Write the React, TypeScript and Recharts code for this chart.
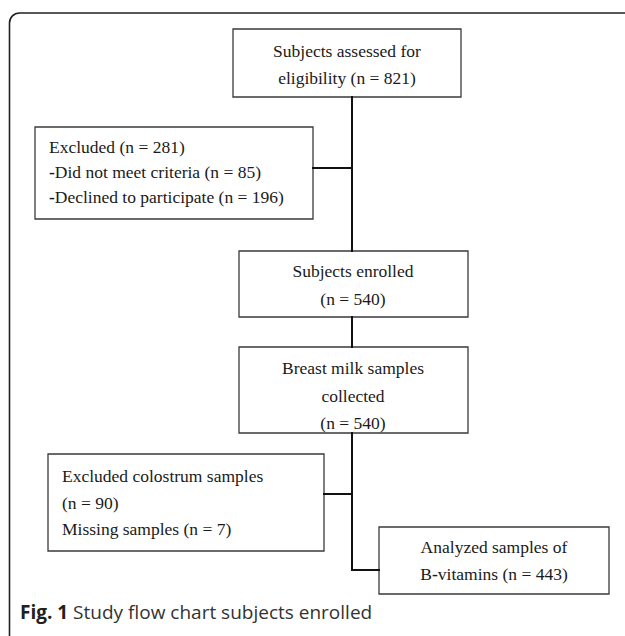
import { ScatterChart, Scatter, XAxis, YAxis, ReferenceArea, ReferenceLine } from 'recharts'

const W = 625
const H = 636

// box contents, top to bottom
const boxText: string[][] = [
    ['Subjects assessed for', 'eligibility (n = 821)'],
    ['Excluded (n = 281)', '-Did not meet criteria (n = 85)', '-Declined to participate (n = 196)'],
    ['Subjects enrolled', '(n = 540)'],
    ['Breast milk samples', 'collected', '(n = 540)'],
    ['Excluded colostrum samples', '(n = 90)', 'Missing samples (n = 7)'],
    ['Analyzed samples of', 'B-vitamins (n = 443)'],
]

const captionBold = 'Fig. 1'
const captionText = ' Study flow chart subjects enrolled'

// layout in page pixels (the axes map 1:1 onto the page)
const boxLayout = [
    { x1: 233, x2: 461, y1: 29, y2: 97, anchor: 'middle', tx: 347, ty: 57, dy: 27 },
    { x1: 35, x2: 313, y1: 127, y2: 219, anchor: 'start', tx: 49, ty: 153, dy: 25 },
    { x1: 239, x2: 468, y1: 251, y2: 317, anchor: 'middle', tx: 353, ty: 277, dy: 28 },
    { x1: 239, x2: 468, y1: 347, y2: 433, anchor: 'middle', tx: 353, ty: 374, dy: 27.5 },
    { x1: 48, x2: 324, y1: 454, y2: 551, anchor: 'start', tx: 62, ty: 482, dy: 26.5 },
    { x1: 379, x2: 609, y1: 527, y2: 594, anchor: 'middle', tx: 494, ty: 553, dy: 27 },
]

const connectors = [
    [{ x: 352, y: 97 }, { x: 352, y: 251 }],
    [{ x: 313, y: 168 }, { x: 352, y: 168 }],
    [{ x: 352, y: 317 }, { x: 352, y: 347 }],
    [{ x: 352, y: 433 }, { x: 352, y: 570 }],
    [{ x: 352, y: 570 }, { x: 379, y: 570 }],
    [{ x: 324, y: 494 }, { x: 352, y: 494 }],
]

const labels = boxText.flatMap((lines, i) =>
    lines.map((text, j) => ({
        x: boxLayout[i].tx,
        y: boxLayout[i].ty + j * boxLayout[i].dy,
        text,
        anchor: boxLayout[i].anchor,
    }))
)

const SERIF = '"Liberation Serif", "Times New Roman", serif'

// hyphens in the source are drawn heavier than the letters
function renderLine(text: string) {
    const parts = text.split('-')
    return parts.map((p, i) => (
        <tspan key={i}>
            {i > 0 && <tspan fontWeight="bold">-</tspan>}
            {p}
        </tspan>
    ))
}

const LabelShape = (props: any) => {
    const { cx, cy, payload } = props
    return (
        <text x={cx} y={cy} textAnchor={payload.anchor} fontFamily={SERIF} fontSize={17.5} fill="#1a1a1a">
            {renderLine(payload.text)}
        </text>
    )
}

const CaptionShape = (props: any) => {
    const { cx, cy } = props
    return (
        <text x={cx} y={cy} fontFamily='"Open Sans", sans-serif' fontSize={19} fill="#231f20">
            <tspan fontWeight="bold">{captionBold}</tspan>
            <tspan fill="#333">{captionText}</tspan>
        </text>
    )
}

export default function App() {
    return (
        <div style={{ position: 'absolute', left: 0, top: 0, width: W, height: H, background: '#fff' }}>
            <ScatterChart width={W} height={H} margin={{ top: 0, right: 0, bottom: 0, left: 0 }}>
                <XAxis type="number" dataKey="x" domain={[0, W]} hide allowDataOverflow />
                <YAxis type="number" dataKey="y" domain={[0, H]} reversed hide allowDataOverflow />

                {/* outer frame, runs off the right and bottom edges */}
                <ReferenceArea
                    x1={9.5}
                    x2={W + 40}
                    y1={13}
                    y2={H + 40}
                    ifOverflow="visible"
                    shape={(p: any) => (
                        <rect x={p.x} y={p.y} width={p.width} height={p.height} rx={10} ry={10}
                            fill="none" stroke="#222" strokeWidth={1.6} />
                    )}
                />

                {boxLayout.map((b, i) => (
                    <ReferenceArea key={`box-${i}`} x1={b.x1} x2={b.x2} y1={b.y1} y2={b.y2}
                        fill="none" fillOpacity={0} stroke="#3a3a3a" strokeWidth={1.3} ifOverflow="visible" />
                ))}

                {connectors.map((seg, i) => (
                    <ReferenceLine key={`c-${i}`} segment={seg} stroke="#111" strokeWidth={2}
                        strokeLinecap="square" ifOverflow="visible" />
                ))}

                <Scatter data={labels} shape={LabelShape} isAnimationActive={false} />
                <Scatter data={[{ x: 20, y: 619 }]} shape={CaptionShape} isAnimationActive={false} />
            </ScatterChart>
        </div>
    )
}
